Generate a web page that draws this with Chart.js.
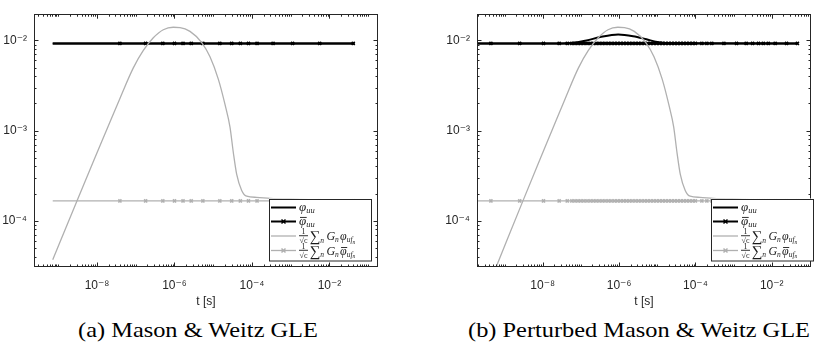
<!DOCTYPE html>
<html>
<head>
<meta charset="utf-8">
<script src="https://cdn.jsdelivr.net/npm/chart.js@4.4.1/dist/chart.umd.min.js"></script>
<style>
  body { margin: 0; background: #fff; width: 817px; height: 348px; overflow: hidden; position: relative; }
  canvas { position: absolute; top: 0; }
  #chartA { left: 0; }
  #chartB { left: 410px; }
  .caption { position: absolute; top: 318px; font: 21px "Liberation Serif", serif; line-height: 24px;
             white-space: nowrap; color: #000; transform: translateX(-50%) scaleX(1.16); }
</style>
</head>
<body>
<canvas id="chartA" width="408" height="315"></canvas>
<canvas id="chartB" width="407" height="315"></canvas>
<div class="caption" style="left:198px">(a) Mason &amp; Weitz GLE</div>
<div class="caption" style="left:639px">(b) Perturbed Mason &amp; Weitz GLE</div>
<script>
/* ---- data ---- */

// levels of the two flat series (both panels)
const phiLevel = 9.25e-3;      // phi_uu and phi-bar_uu
const sumBarLevel = 1.66e-4;   // 1/sqrt(c) sum G_n phi-bar_uf_n

// (1/sqrt(c)) sum G_n phi_uf_n  -- grey curve
const sumT = [7.2e-10, 3.0e-9, 8.0e-9, 1.78e-8, 3.93e-8, 8.65e-8, 1.57e-7, 2.84e-7, 5.14e-7, 9.3e-7,
              1.39e-6, 2.51e-6, 5.04e-6, 8.24e-6, 1.35e-5, 2.01e-5, 2.70e-5, 3.29e-5, 4.03e-5, 5.42e-5,
              7.30e-5, 1.32e-4, 2.92e-4, 1.73e-3, 4.3e-2];
const sumV = [3.70e-5, 1.64e-4, 4.51e-4, 1.02e-3, 2.29e-3, 4.96e-3, 7.74e-3, 1.07e-2, 1.315e-2, 1.40e-2,
              1.39e-2, 1.26e-2, 9.48e-3, 6.58e-3, 3.72e-3, 1.95e-3, 1.10e-3, 5.75e-4, 3.26e-4, 2.17e-4,
              1.87e-4, 1.82e-4, 1.77e-4, 1.73e-4, 1.65e-4];

// panel (a)
const aSpanT = [7.2e-10, 4.4e-2];
const aMarkT = [3.9e-8, 1.8e-7, 5.0e-7, 1.0e-6, 1.66e-6, 2.7e-6, 5.4e-6, 1.48e-5,
                3.0e-5, 5.0e-5, 8.1e-5, 1.35e-4, 3.5e-4, 1.12e-3, 5.6e-3, 4.1e-2];

// panel (b)
const bSpanT = [1.5e-10, 4.7e-2];
const bPhiT = [1.5e-10, 3.2e-8, 6.3e-8, 1.41e-7, 3.2e-7, 9.5e-7, 2.34e-6, 5.2e-6, 1.0e-5, 2.5e-5, 4.7e-2];
const bPhiV = [9.25e-3, 9.25e-3, 9.4e-3, 1.0e-2, 1.09e-2, 1.165e-2, 1.115e-2, 1.03e-2, 9.6e-3, 9.3e-3, 9.25e-3];
const bMarkT = [4.4e-10, 2.5e-9, 1.05e-8, 2.7e-8, 4.4e-8,
                5.8e-8, 7.0e-8, 8.4e-8, 1.0e-7, 1.2e-7, 1.45e-7, 1.75e-7, 2.1e-7, 2.5e-7, 3.0e-7,
                3.6e-7, 4.3e-7, 5.2e-7, 6.2e-7, 7.5e-7, 9.0e-7, 1.08e-6, 1.3e-6, 1.55e-6, 1.85e-6,
                2.2e-6, 2.65e-6, 3.2e-6, 3.8e-6, 4.6e-6, 5.5e-6, 6.6e-6, 7.9e-6, 9.5e-6, 1.14e-5,
                1.37e-5, 1.64e-5, 1.97e-5, 2.36e-5, 2.83e-5, 3.4e-5, 4.1e-5, 4.9e-5, 5.9e-5, 7.1e-5,
                8.5e-5, 1.0e-4,
                1.48e-4, 2.0e-4, 2.7e-4, 5.6e-4, 1.2e-3, 2.14e-3, 3.16e-3, 4.5e-3, 6.0e-3, 8.1e-3,
                1.23e-2, 2.45e-2, 4.7e-2];
const bLeadT = 1.8e-10, bLeadV = 8.7e-6;   // grey curve continues below the axis in (b)

// axis ticks (exponents)
const xTickExp = [-8, -6, -4, -2];
const yTickExp = [-4, -3, -2];

/* ---- styling ---- */
const AXIS = '#262626';
const SANS = '"Liberation Sans", "DejaVu Sans", sans-serif';
const SERIF = '"Liberation Serif", "DejaVu Serif", serif';
const BLACK = '#000000';
const GREY = '#b0b0b0';

const SUP = {'-': '\u207B', '0': '\u2070', '1': '\u00B9', '2': '\u00B2', '3': '\u00B3', '4': '\u2074',
             '5': '\u2075', '6': '\u2076', '7': '\u2077', '8': '\u2078', '9': '\u2079'};
function powLabel(v) {
  const e = String(Math.round(Math.log10(v)));
  return '10' + e.split('').map(c => SUP[c]).join('');
}

function pairs(ts, vs) { return ts.map((t, i) => ({x: t, y: vs[i]})); }
function level(ts, v) { return ts.map(t => ({x: t, y: v})); }

/* ---- legend math labels ---- */
// parts: [text, size, dy, italic]; text null = horizontal gap of `size` px
function run(ctx, x, y, parts) {
  for (const [t, size, dy, italic] of parts) {
    if (t === null) { x += size; continue; }
    ctx.font = (italic ? 'italic ' : '') + size + 'px ' + SERIF;
    ctx.fillText(t, x, y + dy);
    x += ctx.measureText(t).width;
  }
  return x;
}
function phiBar(ctx, x, y, size) {
  ctx.font = 'italic ' + size + 'px ' + SERIF;
  const w = ctx.measureText('\u03C6').width;
  ctx.fillRect(x + 1, y - size * 0.62, w - 0.5, 0.9);
}
function labelPhi(bar) {
  return (ctx, x, y) => {
    if (bar) phiBar(ctx, x, y + 3.5, 13);
    run(ctx, x, y, [['\u03C6', 13, 3.5, true], ['uu', 8.5, 5.5, true]]);
  };
}
function labelSum(bar) {
  return (ctx, x, y) => {
    ctx.textAlign = 'center';
    ctx.font = '8px ' + SERIF;
    ctx.fillText('1', x + 4.5, y - 1.8);
    ctx.fillRect(x, y - 0.7, 9, 0.9);
    ctx.fillText('\u221Ac', x + 4.5, y + 7.2);
    ctx.textAlign = 'left';
    const cx = run(ctx, x + 10.5, y, [['\u2211', 15, 5, false], ['n', 7.5, 6.5, true], [null, 2.5],
                                      ['G', 12, 4, true], ['n', 7.5, 6, true], [null, 1.2]]);
    if (bar) phiBar(ctx, cx, y + 4, 12);
    run(ctx, cx, y, [['\u03C6', 12, 4, true], ['uf', 7.5, 6, true], ['n', 5.5, 7.5, true]]);
  };
}

function drawCross(ctx, x, y, r) {
  ctx.beginPath();
  ctx.moveTo(x - r, y - r); ctx.lineTo(x + r, y + r);
  ctx.moveTo(x - r, y + r); ctx.lineTo(x + r, y - r);
  ctx.stroke();
}

function drawLegend(ctx, right, top) {
  const w = 103, h = 62.5, left = Math.round(right - w);
  ctx.fillStyle = '#fff';
  ctx.fillRect(left, top, w, h);
  ctx.strokeStyle = AXIS; ctx.lineWidth = 1;
  ctx.strokeRect(left + 0.5, Math.round(top) + 0.5, w - 1, h - 1);
  const rows = [
    {dy: 9,    color: BLACK, lw: 2,   marker: false, label: labelPhi(false)},
    {dy: 23,   color: BLACK, lw: 2,   marker: true,  label: labelPhi(true)},
    {dy: 37.5, color: GREY,  lw: 1.3, marker: false, label: labelSum(false)},
    {dy: 52,   color: GREY,  lw: 1.3, marker: true,  label: labelSum(true)}
  ];
  rows.forEach(r => {
    const yy = top + r.dy;
    ctx.strokeStyle = r.color; ctx.lineWidth = r.lw;
    ctx.beginPath(); ctx.moveTo(left + 2, yy); ctx.lineTo(left + 27, yy); ctx.stroke();
    if (r.marker) { ctx.lineWidth = 1.5; drawCross(ctx, left + 14.5, yy, 2); }
    ctx.fillStyle = '#1a1a1a';
    ctx.textBaseline = 'alphabetic'; ctx.textAlign = 'left';
    r.label(ctx, left + 30, yy);
  });
}

/* ---- MATLAB-like box, inward ticks and legend ---- */
const matlabAxes = {
  id: 'matlabAxes',
  afterDatasetsDraw(chart, args, opts) {
    const {ctx, chartArea: a, scales: {x, y}} = chart;
    ctx.save();
    ctx.strokeStyle = AXIS;
    ctx.lineWidth = 1;
    ctx.beginPath();
    const decades = (s) => {
      const out = [];
      for (let e = Math.floor(Math.log10(s.min)); e <= Math.ceil(Math.log10(s.max)); e++) {
        for (let k = 1; k <= 9; k++) {
          const v = k * Math.pow(10, e);
          if (v >= s.min && v <= s.max) out.push({v, major: k === 1 && s.options.majorExp.includes(e)});
        }
      }
      return out;
    };
    decades(x).forEach(t => {
      const px = Math.round(x.getPixelForValue(t.v)) + 0.5;
      const len = t.major ? 4.5 : 2.5;
      ctx.moveTo(px, a.bottom); ctx.lineTo(px, a.bottom - len);
      ctx.moveTo(px, a.top); ctx.lineTo(px, a.top + len);
    });
    decades(y).forEach(t => {
      const py = Math.round(y.getPixelForValue(t.v)) + 0.5;
      const len = t.major ? 4.5 : 2.5;
      ctx.moveTo(a.left, py); ctx.lineTo(a.left + len, py);
      ctx.moveTo(a.right, py); ctx.lineTo(a.right - len, py);
    });
    ctx.stroke();
    ctx.strokeRect(Math.round(a.left) + 0.5, Math.round(a.top) + 0.5,
                   Math.round(a.width) - 1, Math.round(a.height) - 1);
    drawLegend(ctx, a.right + opts.legendDx, opts.legendTop);
    ctx.restore();
  }
};

function makeChart(id, datasets, cfg) {
  return new Chart(document.getElementById(id), {
    type: 'line',
    data: { datasets },
    plugins: [matlabAxes],
    options: {
      responsive: false,
      animation: false,
      devicePixelRatio: 1,
      layout: { padding: { top: 2, right: cfg.padRight, left: 0, bottom: 0 } },
      scales: {
        x: {
          type: 'logarithmic',
          min: Math.pow(10, cfg.xMin), max: Math.pow(10, cfg.xMax),
          majorExp: xTickExp,
          afterBuildTicks: s => { s.ticks = xTickExp.map(e => ({ value: Math.pow(10, e) })); },
          afterFit: s => { s.height = 48; },
          ticks: { callback: v => powLabel(v), font: { family: SANS, size: 12 }, color: AXIS,
                   padding: 11, maxRotation: 0, autoSkip: false },
          grid: { display: false, drawTicks: false },
          border: { display: false },
          title: { display: true, text: 't [s]', color: AXIS, font: { family: SANS, size: 12 },
                   padding: { top: 0, bottom: 6 } }
        },
        y: {
          type: 'logarithmic',
          min: Math.pow(10, -4.513), max: Math.pow(10, -1.709),
          majorExp: yTickExp,
          afterBuildTicks: s => { s.ticks = yTickExp.map(e => ({ value: Math.pow(10, e) })); },
          afterFit: s => { s.width = cfg.yWidth; },
          ticks: { callback: v => powLabel(v), font: { family: SANS, size: 12 }, color: AXIS, padding: 7 },
          grid: { display: false, drawTicks: false },
          border: { display: false }
        }
      },
      plugins: { legend: { display: false }, tooltip: { enabled: false },
                 matlabAxes: { legendDx: cfg.legendDx, legendTop: 198.5 } }
    }
  });
}

function seriesSet(phiData, spanT, markT, sumData) {
  const markedLine = (v) => [{x: spanT[0], y: v}].concat(level(markT, v), [{x: spanT[1], y: v}]);
  const markRadius = c => (c.dataIndex === 0 || c.dataIndex === markT.length + 1) ? 0 : 2.2;
  return [
    { label: 'phi_uu', data: phiData, borderColor: BLACK, borderWidth: 2, pointRadius: 0,
      cubicInterpolationMode: 'monotone', order: 4 },
    { label: 'phibar_uu', data: markedLine(phiLevel), borderColor: BLACK, borderWidth: 2,
      pointStyle: 'crossRot', pointRadius: markRadius, pointBorderColor: BLACK, pointBorderWidth: 1.6, order: 3 },
    { label: 'sum G phi', data: sumData, borderColor: GREY, borderWidth: 1.3, pointRadius: 0,
      cubicInterpolationMode: 'monotone', order: 2 },
    { label: 'sum G phibar', data: markedLine(sumBarLevel), borderColor: GREY, borderWidth: 1.3,
      pointStyle: 'crossRot', pointRadius: markRadius, pointBorderColor: GREY, pointBorderWidth: 1.6, order: 1 }
  ];
}

// panel (a)
makeChart('chartA',
  seriesSet(level(aSpanT, phiLevel), aSpanT, aMarkT, pairs(sumT, sumV)),
  { xMin: -9.626, xMax: -0.748, yWidth: 34, padRight: 30, legendDx: -6 });

// panel (b)
makeChart('chartB',
  seriesSet(pairs(bPhiT, bPhiV), bSpanT, bMarkT, [{x: bLeadT, y: bLeadV}].concat(pairs(sumT, sumV))),
  { xMin: -9.721, xMax: -0.971, yWidth: 67, padRight: 6, legendDx: 3 });
</script>
</body>
</html>
